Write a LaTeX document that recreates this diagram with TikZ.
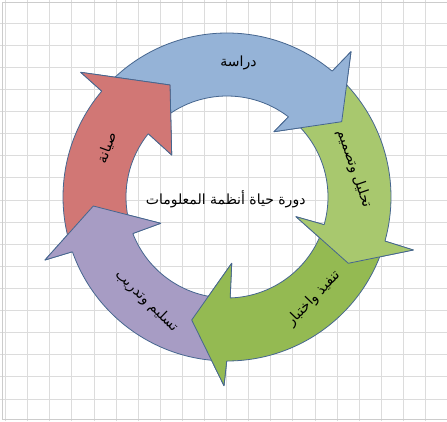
\documentclass[tikz,border=0pt]{standalone}
\usepackage{fontspec}
\newfontfamily\arabicfont[Script=Arabic]{DejaVu Sans}
\TeXXeTstate=1
\definecolor{blueF}{HTML}{95B3D7}
\definecolor{greenA}{HTML}{A8C86E}
\definecolor{greenB}{HTML}{94BA52}
\definecolor{purpleF}{HTML}{A79CC4}
\definecolor{redF}{HTML}{D17775}
\definecolor{edgeC}{HTML}{46668F}
\definecolor{gridC}{HTML}{DCDCDC}
\definecolor{frameC}{HTML}{CCCCCC}
\tikzset{
  gridline/.style={draw=gridC, line width=1pt},
  frameline/.style={draw=frameC, line width=1.5pt},
  arrowline/.style={draw=edgeC, line width=0.8pt, line join=round},
  lbl/.style={font=\arabicfont\fontsize{14}{16}\selectfont, inner sep=0pt, text=black},
}
\begin{document}
\begin{tikzpicture}[x=1pt,y=1pt]
\useasboundingbox (0,0) rectangle (447,421);
\fill[white] (0,0) rectangle (447,421);
% grid
\foreach \i in {0,...,19} { \draw[gridline] ({5.6+22.1*\i},0) -- ({5.6+22.1*\i},421); }
\foreach \k in {1,...,18} { \draw[gridline] (0,{419.8-22.1*\k}) -- (447,{419.8-22.1*\k}); }
\draw[frameline] (2.5,1.5) -- (2.5,418.5) -- (447,418.5);
\draw[frameline] (2.5,1.5) -- (447,1.5);
\begin{scope}[shift={(227,224)}]
% bodies
\filldraw[arrowline, fill=blueF] (50.1:164) -- (124,145.3) -- (114.7,75.3) -- (47,65.3) -- (52.5:101)
  arc[start angle=52.5, end angle=137, radius=101] -- (137:164) arc[start angle=137, end angle=50.1, radius=164] -- cycle;
\filldraw[arrowline, fill=greenA] (-15.6:164) -- (186.3,-53) -- (121.3,-66.3) -- (69,-19.7) -- (-15.9:101)
  arc[start angle=-15.9, end angle=47, radius=101] -- (47:164) arc[start angle=47, end angle=-15.6, radius=164] -- cycle;
\filldraw[arrowline, fill=greenB] (-90.1:164) -- (-3,-188.7) -- (-35.3,-123) -- (4.7,-66.3) -- (-88.2:101)
  arc[start angle=-88.2, end angle=-18, radius=101] -- (-18:164) arc[start angle=-18, end angle=-90.1, radius=164] -- cycle;
\filldraw[arrowline, fill=purpleF] (-160.5:164) -- (-182,-63) -- (-133.7,-9) -- (-66.3,-26.3) -- (-158.8:101)
  arc[start angle=-158.8, end angle=-93, radius=101] -- (-93:164) arc[start angle=-93, end angle=-160.5, radius=164] -- cycle;
\filldraw[arrowline, fill=redF] (139.8:164) -- (-146.3,124.7) -- (-57,112) -- (-55.3,42) -- (141.2:101)
  arc[start angle=141.2, end angle=197, radius=101] -- (197:164) arc[start angle=197, end angle=139.8, radius=164] -- cycle;
% heads on top
\fill[blueF] (50.1:164) -- (124,145.3) -- (114.7,75.3) -- (47,65.3) -- (52.5:101) -- cycle;
\draw[arrowline] (50.1:164) -- (124,145.3) -- (114.7,75.3) -- (47,65.3) -- (52.5:101);
\fill[greenA] (-15.6:164) -- (186.3,-53) -- (121.3,-66.3) -- (69,-19.7) -- (-15.9:101) -- cycle;
\draw[arrowline] (-15.6:164) -- (186.3,-53) -- (121.3,-66.3) -- (69,-19.7) -- (-15.9:101);
\fill[greenB] (-90.1:164) -- (-3,-188.7) -- (-35.3,-123) -- (4.7,-66.3) -- (-88.2:101) -- cycle;
\draw[arrowline] (-90.1:164) -- (-3,-188.7) -- (-35.3,-123) -- (4.7,-66.3) -- (-88.2:101);
\fill[purpleF] (-160.5:164) -- (-182,-63) -- (-133.7,-9) -- (-66.3,-26.3) -- (-158.8:101) -- cycle;
\draw[arrowline] (-160.5:164) -- (-182,-63) -- (-133.7,-9) -- (-66.3,-26.3) -- (-158.8:101);
\fill[redF] (139.8:164) -- (-146.3,124.7) -- (-57,112) -- (-55.3,42) -- (141.2:101) -- cycle;
\draw[arrowline] (139.8:164) -- (-146.3,124.7) -- (-57,112) -- (-55.3,42) -- (141.2:101);
\end{scope}
% labels
\node[lbl] (study) at (238.5,358) {\beginR دراسة\endR};
\node[lbl, rotate=-71] (analysis) at (354,252) {\beginR تحليل وتصميم\endR};
\node[lbl, rotate=46] (impl) at (313.5,122.5) {\beginR تنفيذ واختبار\endR};
\node[lbl, rotate=-44] (deliver) at (146.5,120) {\beginR تسليم وتدريب\endR};
\node[lbl, rotate=70] (maint) at (107,273) {\beginR صيانة\endR};
\node[lbl] (title) at (225.7,221.7) {\beginR دورة حياة أنظمة المعلومات\endR};
\end{tikzpicture}
\end{document}
